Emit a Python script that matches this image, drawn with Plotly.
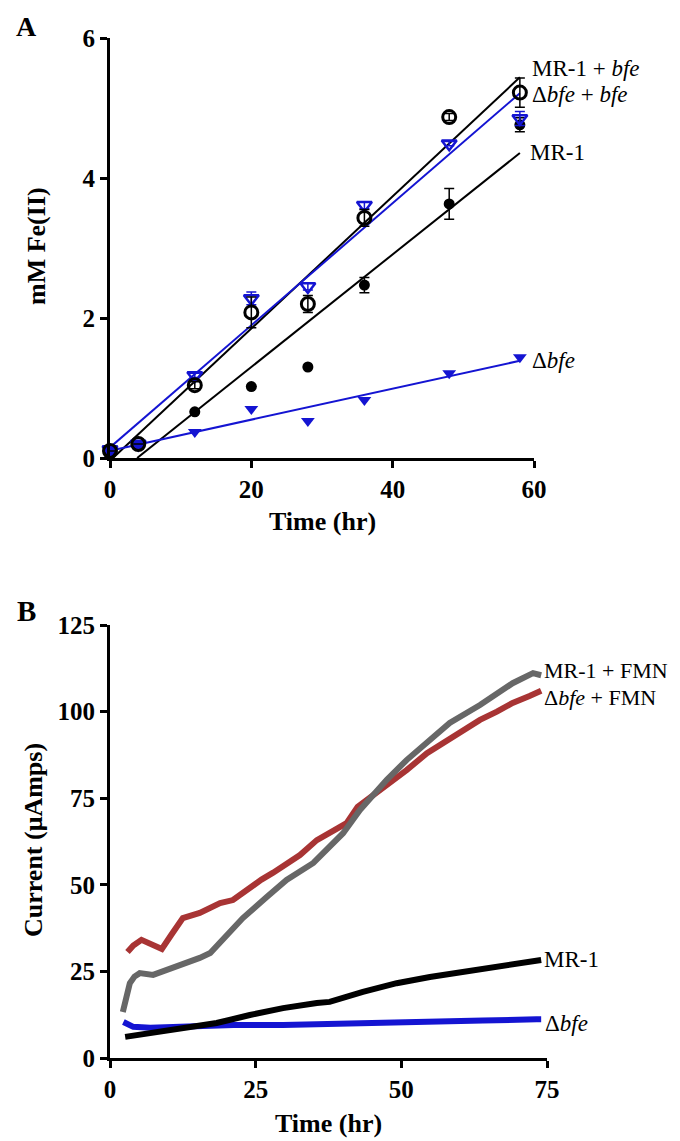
import numpy as np
import plotly.graph_objects as go

# ---------------- Panel A data ----------------
time_a = [0, 4, 12, 20, 28, 36, 48, 58]
mr1_bfe = [0.10, 0.20, 1.04, 2.08, 2.20, 3.43, 4.87, 5.22]
mr1_bfe_err = [0.0, 0.0, 0.05, 0.22, 0.12, 0.12, 0.05, 0.21]
dbfe_bfe = [0.12, 0.20, 1.18, 2.28, 2.45, 3.61, 4.49, 4.85]
dbfe_bfe_err = [0.0, 0.0, 0.03, 0.09, 0.05, 0.05, 0.03, 0.10]
mr1 = [0.08, 0.18, 0.66, 1.02, 1.30, 2.47, 3.63, 4.76]
mr1_err = [0.0, 0.0, 0.0, 0.0, 0.0, 0.11, 0.22, 0.10]
dbfe = [0.12, 0.20, 0.37, 0.70, 0.53, 0.83, 1.21, 1.44]

# ---------------- Panel B data ----------------
t_red = [3.0, 4.0, 5.4, 7.0, 8.9, 10.5, 12.5, 15.4, 18.9, 21.1, 24.5, 26.0, 28.0, 32.6,
         35.5, 38.0, 40.6, 42.5, 46.8, 50.9, 54.4, 58.3, 63.5, 66.4, 69.1, 72.0, 74.0]
i_red = [30.6, 32.5, 34.1, 32.8, 31.5, 35.5, 40.4, 41.9, 44.7, 45.6, 50.0, 51.5, 53.5, 58.6,
         62.9, 65.5, 67.8, 72.5, 77.9, 83.1, 88.0, 92.3, 97.6, 100.0, 102.5, 104.5, 106.0]
t_gray = [2.2, 2.9, 3.4, 4.2, 5.1, 7.4, 9.7, 12.6, 15.4, 17.2, 19.4, 22.8, 26.9, 30.3,
          34.9, 40.0, 42.9, 47.5, 50.9, 55.4, 58.3, 63.5, 69.1, 72.6, 74.0]
i_gray = [13.3, 18.8, 21.6, 23.5, 24.5, 24.0, 25.4, 26.8, 28.9, 30.3, 34.1, 40.4, 46.5, 51.4,
          56.3, 64.9, 71.6, 80.3, 86.0, 92.7, 96.7, 101.9, 108.2, 111.1, 110.5]
t_black = [2.6, 6.9, 12.5, 18.3, 24.0, 29.7, 35.5, 37.7, 43.4, 49.2, 54.9, 60.6, 66.4, 73.2, 74.0]
i_black = [6.1, 7.2, 8.7, 10.1, 12.4, 14.4, 15.9, 16.2, 19.1, 21.6, 23.4, 24.8, 26.3, 28.0, 28.3]
t_blue = [2.3, 4.0, 6.9, 12.5, 21.2, 29.7, 37.2, 45.0, 54.9, 64.0, 73.2, 74.0]
i_blue = [10.4, 9.0, 8.7, 9.0, 9.5, 9.5, 9.7, 10.0, 10.4, 10.8, 11.2, 11.2]

ticks_a_x = [0, 20, 40, 60]
ticks_a_y = [0, 2, 4, 6]
ticks_b_x = [0, 25, 50, 75]
ticks_b_y = [0, 25, 50, 75, 100, 125]

BLUE = "#1414d2"
RED = "#a83434"
GRAY = "#676767"
FONT = "Liberation Serif"

# page has an 8px body margin; figure sized to fit inside the 680x1141 window
OFF = 8
W, H = 680 - OFF, 1141 - OFF


def px(x):
    return (x - OFF) / W


def py(y):
    return 1 - (y - OFF) / H


fig = go.Figure()


def fit_line(xs, ys, color):
    m, b = np.polyfit(xs, ys, 1)
    x0 = max(0.0, -b / m) if b < 0 else 0.0
    x1 = max(xs)
    fig.add_trace(go.Scatter(x=[x0, x1], y=[m * x0 + b, m * x1 + b], mode="lines",
                             line=dict(color=color, width=2), xaxis="x", yaxis="y",
                             showlegend=False, hoverinfo="skip"))


fit_line(time_a, mr1_bfe, "black")
fit_line(time_a, mr1, "black")
fit_line(time_a, dbfe_bfe, BLUE)
fit_line(time_a, dbfe, BLUE)

fig.add_trace(go.Scatter(x=time_a, y=mr1, mode="markers", xaxis="x", yaxis="y",
                         marker=dict(symbol="circle", size=11, color="black"),
                         error_y=dict(type="data", array=mr1_err, color="black", thickness=1.5, width=5),
                         cliponaxis=False, showlegend=False))
fig.add_trace(go.Scatter(x=time_a, y=dbfe, mode="markers", xaxis="x", yaxis="y",
                         marker=dict(symbol="triangle-down", size=12, color=BLUE),
                         cliponaxis=False, showlegend=False))
fig.add_trace(go.Scatter(x=time_a, y=dbfe_bfe, mode="markers", xaxis="x", yaxis="y",
                         marker=dict(symbol="triangle-down-open", size=13, color=BLUE, line=dict(width=2.5)),
                         error_y=dict(type="data", array=dbfe_bfe_err, color=BLUE, thickness=1.5, width=5),
                         cliponaxis=False, showlegend=False))
fig.add_trace(go.Scatter(x=time_a, y=mr1_bfe, mode="markers", xaxis="x", yaxis="y",
                         marker=dict(symbol="circle-open", size=13, color="black", line=dict(width=3)),
                         error_y=dict(type="data", array=mr1_bfe_err, color="black", thickness=1.5, width=5),
                         cliponaxis=False, showlegend=False))

# Panel B curves
for t, v, c in [(t_blue, i_blue, BLUE), (t_black, i_black, "black"),
                (t_red, i_red, RED), (t_gray, i_gray, GRAY)]:
    fig.add_trace(go.Scatter(x=t, y=v, mode="lines", xaxis="x2", yaxis="y2",
                             line=dict(color=c, width=6), showlegend=False))

axis_common = dict(showgrid=False, zeroline=False, showline=True, linecolor="black", linewidth=3,
                   ticks="outside", ticklen=7, tickwidth=3, tickcolor="black", automargin=False,
                   tickfont=dict(family=FONT, size=25, color="black", weight="bold"))

fig.update_layout(
    width=W, height=H, margin=dict(l=0, r=0, t=0, b=0),
    paper_bgcolor="white", plot_bgcolor="white", showlegend=False,
    font=dict(family=FONT),
    xaxis=dict(domain=[px(110), px(534)], range=[0, 60], tickvals=ticks_a_x, anchor="y", **axis_common),
    yaxis=dict(domain=[py(458), py(38)], range=[0, 6], tickvals=ticks_a_y, anchor="x", **axis_common),
    xaxis2=dict(domain=[px(110), px(547)], range=[0, 75], tickvals=ticks_b_x, anchor="y2", **axis_common),
    yaxis2=dict(domain=[py(1058), py(625)], range=[0, 125], tickvals=ticks_b_y, anchor="x2", **axis_common),
)

ann = []


def txt(x, y, s, size, xref="paper", yref="paper", xanchor="center", yanchor="middle", angle=0, bold=False,
        xshift=0):
    ann.append(dict(x=x, y=y, xref=xref, yref=yref, text=s, showarrow=False, xanchor=xanchor,
                    yanchor=yanchor, textangle=angle, xshift=xshift,
                    font=dict(family=FONT, size=size, color="black", weight="bold" if bold else "normal")))


# Panel letters
txt(px(26), py(26), "A", 28, bold=True)
txt(px(26), py(611), "B", 29, bold=True)
# Axis titles
txt(px(322), py(522), "Time (hr)", 26, bold=True)
txt(px(37), py(246), "mM Fe(II)", 26, angle=-90, bold=True)
txt(px(328), py(1123), "Time (hr)", 26, bold=True)
txt(px(33), py(840), "Current (μAmps)", 26, angle=-90, bold=True)

# Panel A series labels
txt(58, 5.56, "MR-1 + <i>bfe</i>", 23, xref="x", yref="y", xanchor="left", xshift=10)
txt(58, 5.20, "Δ<i>bfe</i> + <i>bfe</i>", 23, xref="x", yref="y", xanchor="left", xshift=10)
txt(58, 4.37, "MR-1", 23, xref="x", yref="y", xanchor="left", xshift=8)
txt(58, 1.40, "Δ<i>bfe</i>", 23, xref="x", yref="y", xanchor="left", xshift=10)

# Panel B series labels
txt(74, 112.0, "MR-1 + FMN", 22, xref="x2", yref="y2", xanchor="left", xshift=1)
txt(74, 104.2, "Δ<i>bfe</i> + FMN", 22, xref="x2", yref="y2", xanchor="left", xshift=1)
txt(74, 28.3, "MR-1", 23, xref="x2", yref="y2", xanchor="left", xshift=1)
txt(74, 10.1, "Δ<i>bfe</i>", 23, xref="x2", yref="y2", xanchor="left", xshift=2)

fig.update_layout(annotations=ann)
fig.write_html("out.html")
